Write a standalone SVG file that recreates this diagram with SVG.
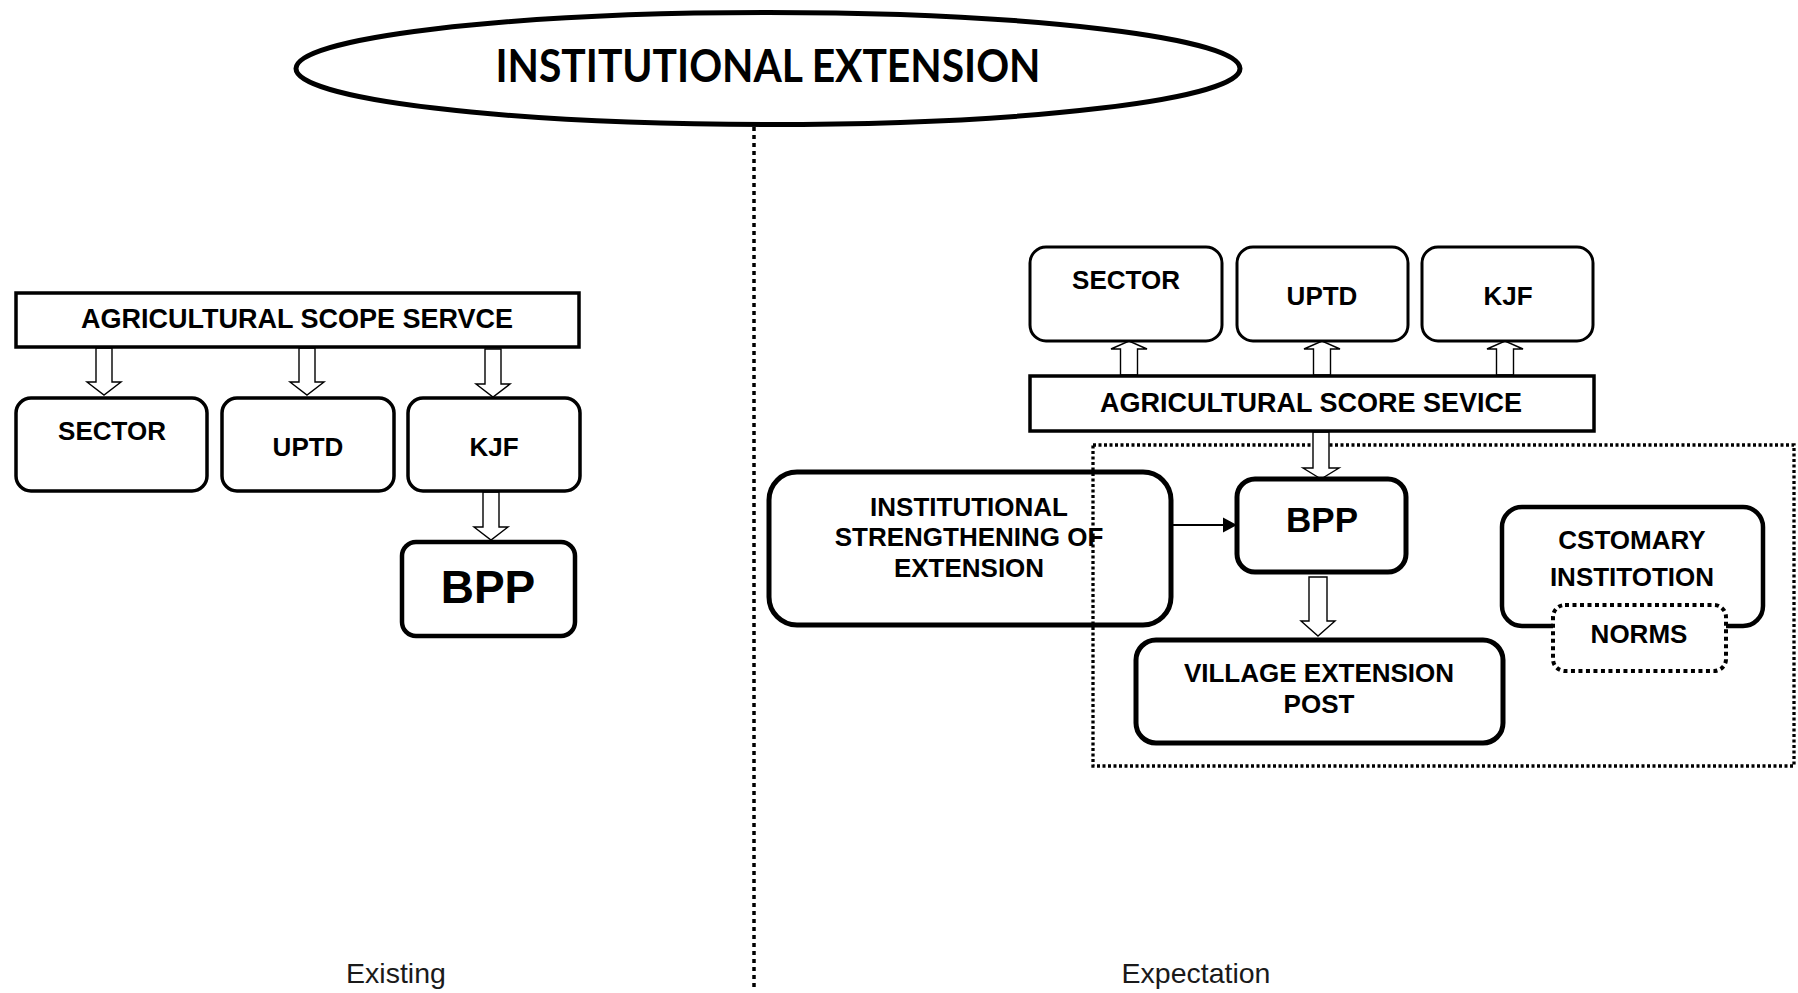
<svg xmlns="http://www.w3.org/2000/svg" width="1798" height="993" viewBox="0 0 1798 993">
<style>
.lbl{font-family:"Liberation Sans",Arial,sans-serif;font-weight:bold;font-size:26px;fill:#000;text-anchor:middle}
.box{fill:#fff;stroke:#000}
.harrow{fill:#fff;stroke:#000;stroke-width:1.4;stroke-linejoin:miter}
.cap{font-family:"Liberation Sans",Arial,sans-serif;font-size:28.5px;fill:#1a1a1a;text-anchor:middle}
</style>
<rect width="1798" height="993" fill="#fff"/>
<g id="title">
<ellipse cx="768" cy="68.5" rx="472" ry="56" fill="#fff" stroke="#000" stroke-width="5"/>
<text x="768" y="82" font-family="Lato,'Open Sans',sans-serif" font-weight="bold" font-size="45" text-anchor="middle" textLength="545" lengthAdjust="spacingAndGlyphs">INSTITUTIONAL EXTENSION</text>
</g>
<g id="divider">
<line x1="754" y1="127" x2="754" y2="988" stroke="#000" stroke-width="3.5" stroke-dasharray="4 4"/>
</g>
<g id="expect-area">
<rect x="1093" y="445" width="701" height="321" fill="none" stroke="#000" stroke-width="3.3" stroke-dasharray="3 2.5"/>
</g>
<g id="connectors">
<polygon class="harrow" points="96,348 112,348 112,382 121,382 104,395 87,382 96,382"/>
<polygon class="harrow" points="299,348 315,348 315,382 324,382 307,395 290,382 299,382"/>
<polygon class="harrow" points="485,349 501,349 501,384 510,384 493,397 476,384 485,384"/>
<polygon class="harrow" points="483,492 499,492 499,527 508,527 491,540 474,527 483,527"/>
<polygon class="harrow" points="1120.5,375 1137.5,375 1137.5,349 1147,349 1129,341 1111,349 1120.5,349"/>
<polygon class="harrow" points="1313.5,375 1330.5,375 1330.5,349 1340,349 1322,341 1304,349 1313.5,349"/>
<polygon class="harrow" points="1496.5,375 1513.5,375 1513.5,349 1523,349 1505,341 1487,349 1496.5,349"/>
<polygon class="harrow" points="1313,432 1329,432 1329,468 1339,468 1321,479 1303,468 1313,468"/>
<polygon class="harrow" points="1309,577 1327,577 1327,621 1335,621 1318,636 1301,621 1309,621"/>
<line x1="1173" y1="525" x2="1224" y2="525" stroke="#000" stroke-width="2"/>
<polygon points="1223,517.5 1237,525 1223,532.5" fill="#000"/>
</g>
<g id="ex-ass">
<rect class="box" x="16" y="293" width="563" height="54" stroke-width="3.5"/>
<text class="lbl" x="297" y="328" style="font-size:27px">AGRICULTURAL SCOPE SERVCE</text>
</g>
<g id="ex-sector">
<rect class="box" x="16" y="398" width="191" height="93" rx="15" stroke-width="3.5"/>
<text class="lbl" x="112" y="440">SECTOR</text>
</g>
<g id="ex-uptd">
<rect class="box" x="222" y="398" width="172" height="93" rx="15" stroke-width="3.5"/>
<text class="lbl" x="308" y="456">UPTD</text>
</g>
<g id="ex-kjf">
<rect class="box" x="408" y="398" width="172" height="93" rx="15" stroke-width="3.5"/>
<text class="lbl" x="494" y="456">KJF</text>
</g>
<g id="ex-bpp">
<rect class="box" x="402" y="542" width="173" height="94" rx="14" stroke-width="4.5"/>
<text class="lbl" x="488" y="603" style="font-size:46px">BPP</text>
</g>
<g id="exp-sector">
<rect class="box" x="1030" y="247" width="192" height="94" rx="16" stroke-width="3"/>
<text class="lbl" x="1126" y="289">SECTOR</text>
</g>
<g id="exp-uptd">
<rect class="box" x="1237" y="247" width="171" height="94" rx="16" stroke-width="3"/>
<text class="lbl" x="1322" y="305">UPTD</text>
</g>
<g id="exp-kjf">
<rect class="box" x="1422" y="247" width="171" height="94" rx="16" stroke-width="3"/>
<text class="lbl" x="1508" y="305">KJF</text>
</g>
<g id="exp-ass">
<rect class="box" x="1030" y="376" width="564" height="55" stroke-width="3.5"/>
<text class="lbl" x="1311" y="412" style="font-size:27px">AGRICULTURAL SCORE SEVICE</text>
</g>
<g id="exp-inst">
<rect x="769" y="472" width="402" height="153" rx="28" fill="none" stroke="#000" stroke-width="5"/>
<text class="lbl" x="969" y="516">INSTITUTIONAL</text>
<text class="lbl" x="969" y="546">STRENGTHENING OF</text>
<text class="lbl" x="969" y="577">EXTENSION</text>
</g>
<g id="exp-bpp">
<rect class="box" x="1237" y="479" width="169" height="93" rx="18" stroke-width="5"/>
<text class="lbl" x="1322" y="532" style="font-size:35px">BPP</text>
</g>
<g id="exp-village">
<rect class="box" x="1136" y="640" width="367" height="103" rx="20" stroke-width="5"/>
<text class="lbl" x="1319" y="682">VILLAGE EXTENSION</text>
<text class="lbl" x="1319" y="713">POST</text>
</g>
<g id="exp-customary">
<rect class="box" x="1502" y="507" width="261" height="119" rx="20" stroke-width="4.5"/>
<text class="lbl" x="1632" y="549">CSTOMARY</text>
<text class="lbl" x="1632" y="586">INSTITOTION</text>
</g>
<g id="exp-norms">
<rect x="1553" y="605" width="173" height="66" rx="12" fill="#fff" stroke="#000" stroke-width="4" stroke-dasharray="4 3.5"/>
<text class="lbl" x="1639" y="643">NORMS</text>
</g>
<g id="captions">
<text class="cap" x="396" y="983">Existing</text>
<text class="cap" x="1196" y="983">Expectation</text>
</g>
</svg>
